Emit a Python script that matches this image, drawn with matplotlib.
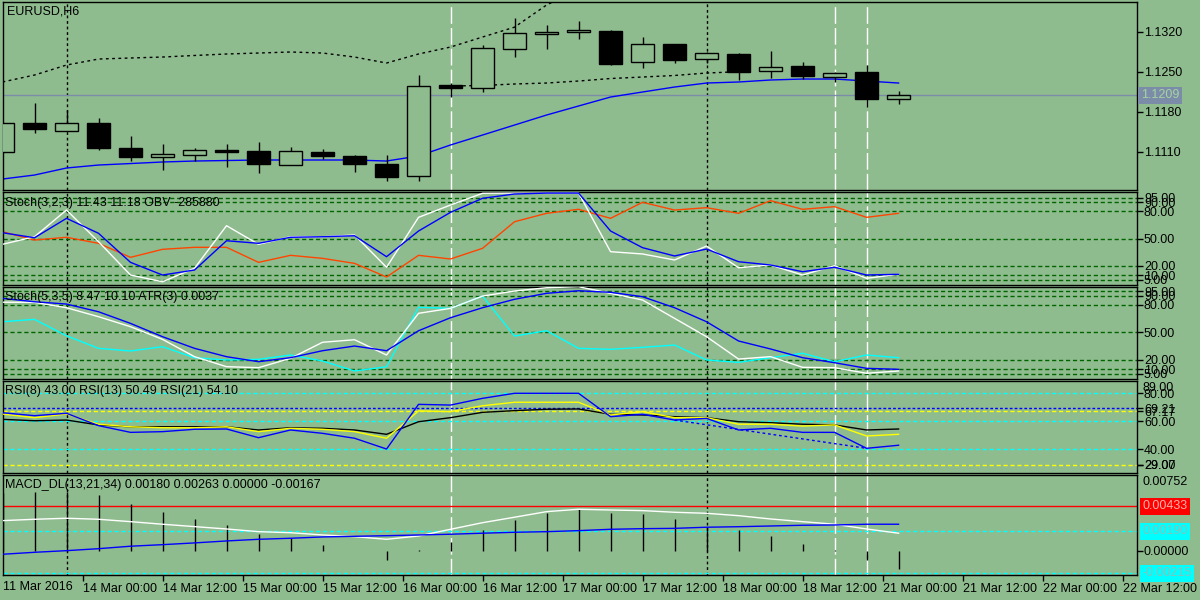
import matplotlib
matplotlib.use('Agg')
import matplotlib.pyplot as plt
import matplotlib.transforms as mtrans

BG = '#8fbc8f'
W, H = 1200, 600

# ---- price data (EURUSD H6), bar index 0..28
opens = [1.1110, 1.1160, 1.1147, 1.1160, 1.1117, 1.1101, 1.1104, 1.1113, 1.1111, 1.1087,
         1.1109, 1.1103, 1.1089, 1.1067, 1.1226, 1.1221, 1.1289, 1.1316, 1.1320, 1.1321,
         1.1267, 1.1299, 1.1272, 1.1281, 1.1251, 1.1260, 1.1241, 1.1250, 1.1202]
highs = [1.1162, 1.1195, 1.1183, 1.1169, 1.1138, 1.1124, 1.1117, 1.1124, 1.1127, 1.1118,
         1.1115, 1.1104, 1.1104, 1.1244, 1.1230, 1.1297, 1.1344, 1.1332, 1.1339, 1.1323,
         1.1310, 1.1299, 1.1285, 1.1282, 1.1286, 1.1267, 1.1250, 1.1261, 1.1216]
lows = [1.1108, 1.1143, 1.1147, 1.1113, 1.1094, 1.1078, 1.1093, 1.1084, 1.1073, 1.1087,
        1.1097, 1.1075, 1.1059, 1.1059, 1.1206, 1.1215, 1.1276, 1.1290, 1.1307, 1.1262,
        1.1257, 1.1265, 1.1265, 1.1236, 1.1239, 1.1237, 1.1232, 1.1189, 1.1194]
closes = [1.1160, 1.1149, 1.1160, 1.1117, 1.1101, 1.1106, 1.1113, 1.1110, 1.1089, 1.1111,
          1.1103, 1.1089, 1.1066, 1.1225, 1.1222, 1.1291, 1.1317, 1.1319, 1.1323, 1.1264,
          1.1299, 1.1271, 1.1282, 1.1250, 1.1258, 1.1243, 1.1248, 1.1202, 1.1209]
ma_line = [1.10622, 1.10692, 1.10815, 1.10867, 1.10893, 1.10920, 1.10937, 1.10946, 1.10955, 1.10955,
           1.10955, 1.10955, 1.10937, 1.11025, 1.11218, 1.11392, 1.11567, 1.11742, 1.11900, 1.12057,
           1.12145, 1.12232, 1.12302, 1.12320, 1.12355, 1.12372, 1.12372, 1.12337, 1.12302]
upper_band = [1.12320, 1.12442, 1.12617, 1.12722, 1.12740, 1.12757, 1.12784, 1.12810, 1.12827, 1.12845,
              1.12827, 1.12757, 1.12652, 1.12810, 1.12932, 1.13107, 1.13280, 1.13667, 1.13947]
mid_band_x = [14, 15, 16, 17, 18, 19, 20, 21, 22, 23]
mid_band = [1.12250, 1.12259, 1.12285, 1.12302, 1.12337, 1.12381, 1.12407, 1.12434, 1.12477, 1.12500]
last_price = 1.1209

# ---- Stoch(3,2,3) + OBV
st1_main = [43.8, 52.1, 81.4, 46.7, 10.1, 2.7, 17.5, 64.2, 43.8, 52.1, 52.1, 54.0, 18.6, 73.4, 86.9,
            99.8, 100, 100, 100, 35.7, 33.2, 26.6, 41.9, 18.1, 21.1, 10.1, 20.3, 6.5, 10.9]
st1_sig = [56.5, 51.0, 72.3, 55.9, 24.0, 10.1, 15.6, 47.7, 44.9, 51.5, 52.1, 53.2, 30.2, 58.4, 78.9,
           94.3, 99.0, 100, 100, 58.4, 40.1, 31.0, 38.6, 24.7, 21.1, 13.7, 18.6, 10.1, 10.9]
obv = [57.6, 48.5, 51.5, 44.9, 29.5, 38.3, 40.5, 40.5, 24.0, 31.7, 28.4, 22.9, 7.9, 31.7, 27.7,
       39.4, 68.6, 77.8, 82.2, 72.3, 89.9, 81.4, 84.0, 77.8, 91.7, 82.2, 85.1, 73.4, 77.8]

# ---- Stoch(5,3,5) + ATR
st2_main = [83.0, 82.9, 77.0, 67.2, 56.3, 42.5, 23.6, 12.7, 11.6, 21.8, 39.3, 42.1, 25.4, 70.9, 76.3,
            89.7, 95.2, 98.8, 99.9, 92.7, 85.4, 65.4, 45.4, 21.0, 23.6, 12.0, 11.6, 5.5, 8.0]
st2_sig = [87.2, 83.5, 81.0, 72.6, 59.9, 45.4, 32.7, 23.6, 18.1, 22.5, 30.1, 35.2, 30.1, 51.9, 66.1,
           77.0, 86.2, 92.7, 95.5, 93.8, 89.0, 77.0, 61.7, 40.7, 32.0, 22.5, 17.0, 10.9, 9.8]
atr = [61.7, 64.3, 46.4, 32.7, 29.8, 34.5, 22.5, 20.0, 20.7, 25.4, 18.9, 8.0, 12.6, 77.4, 76.3,
       89.7, 46.1, 51.9, 32.7, 31.6, 33.8, 36.3, 20.0, 17.4, 22.5, 27.3, 18.1, 25.4, 22.5]

# ---- RSI
rsi8 = [66.1, 64.0, 65.7, 56.9, 52.1, 52.6, 54.3, 54.5, 48.3, 53.8, 51.4, 47.9, 40.2, 72.1, 71.6,
        76.4, 80.0, 80.0, 80.0, 63.3, 65.0, 60.9, 62.1, 53.8, 55.0, 52.1, 52.1, 40.7, 42.9]
rsi13 = [65.2, 62.6, 65.2, 57.9, 56.1, 55.4, 55.4, 56.1, 52.6, 55.0, 54.3, 52.6, 47.9, 67.4, 66.9,
         71.1, 73.6, 73.6, 73.6, 64.5, 66.9, 62.6, 62.6, 57.9, 57.9, 56.6, 57.4, 49.5, 50.7]
rsi21 = [61.4, 60.4, 60.9, 57.4, 56.1, 56.1, 56.1, 56.1, 53.8, 55.4, 55.0, 53.8, 50.7, 59.7, 62.6,
         66.4, 67.6, 68.6, 68.8, 65.0, 64.5, 63.3, 62.6, 59.7, 59.0, 57.9, 57.4, 53.8, 54.5]
rsi_trend_x = [21, 27]
rsi_trend = [60.9, 40.7]

# ---- MACD_DL (values x 0.001)
macd_hist = [5.6, 5.69, 5.69, 5.43, 4.55, 3.78, 3.10, 2.52, 1.68, 1.23, 0.58, 0.0, -0.87, 0.1, 0.90,
             2.03, 3.00, 3.71, 4.07, 3.71, 3.55, 3.10, 2.36, 2.03, 1.45, 0.68, 0.10, -0.90, -1.74]
macd_blue = [-0.32, -0.13, 0.03, 0.22, 0.46, 0.61, 0.78, 0.97, 1.13, 1.23, 1.36, 1.42, 1.48, 1.55, 1.62,
             1.72, 1.81, 1.87, 1.97, 2.10, 2.16, 2.19, 2.30, 2.35, 2.42, 2.49, 2.52, 2.59, 2.59]
macd_white = [2.94, 3.07, 3.17, 3.07, 2.84, 2.59, 2.36, 2.13, 1.87, 1.77, 1.55, 1.39, 1.13, 1.45, 2.10,
              2.74, 3.27, 3.81, 4.04, 3.97, 3.91, 3.75, 3.65, 3.42, 3.10, 2.84, 2.59, 2.13, 1.72]

time_labels = ['14 Mar 00:00', '14 Mar 12:00', '15 Mar 00:00', '15 Mar 12:00', '16 Mar 00:00',
               '16 Mar 12:00', '17 Mar 00:00', '17 Mar 12:00', '18 Mar 00:00', '18 Mar 12:00',
               '21 Mar 00:00', '21 Mar 12:00', '22 Mar 00:00', '22 Mar 12:00']

plt.rcParams['font.family'] = ['Liberation Sans', 'DejaVu Sans']
plt.rcParams['font.size'] = 9

fig = plt.figure(figsize=(12, 6), dpi=100, facecolor=BG)


def panel(top, bottom, ylim):
    ax = fig.add_axes([2.5 / W, 1 - bottom / H, (1137 - 2.5) / W, (bottom - top) / H])
    ax.set_facecolor(BG)
    ax.set_xlim(0, 35.45)
    ax.set_ylim(*ylim)
    for s in ax.spines.values():
        s.set_color('black')
        s.set_linewidth(1)
    ax.yaxis.tick_right()
    ax.tick_params(axis='y', length=4, width=1, pad=1, colors='black', labelsize=9)
    ax.tick_params(axis='x', bottom=False, labelbottom=False)
    # vertical marker lines
    for k in [2, 22]:
        ax.axvline(k, color='black', lw=1, dashes=(2, 2), zorder=1)
    for k in [14, 26, 27]:
        ax.axvline(k, color='white', lw=1, dashes=(12, 3), zorder=1)
    return ax


def title(x, y, s):
    fig.text(x / W, 1 - y / H, s, va='center', ha='left', color='black', fontsize=9)


xs = list(range(len(closes)))

# ---------------- main price panel
ax = panel(2, 190, (1.10430, 1.13720))
ax.axhline(last_price, color='#7a8ca8', lw=1, zorder=1)
ax.plot(xs, ma_line, color='#0000ff', lw=1, zorder=2)
ax.plot(range(len(upper_band)), upper_band, color='black', lw=1, dashes=(2, 2.5), zorder=2)
ax.plot(mid_band_x, mid_band, color='black', lw=1, dashes=(2, 2.5), zorder=2)
for k in xs:
    o, h, l, c = opens[k], highs[k], lows[k], closes[k]
    ax.vlines(k, l, h, color='black', lw=1, zorder=3)
    fc = BG if c >= o else 'black'
    ax.bar(k, max(abs(c - o), 0.00002), bottom=min(o, c), width=0.72, color=fc,
           edgecolor='black', linewidth=1, zorder=4)
ax.set_yticks([1.1110, 1.1180, 1.1250, 1.1320])
ax.set_yticklabels(['1.1110', '1.1180', '1.1250', '1.1320'])
tr = mtrans.blended_transform_factory(ax.transAxes, ax.transData)
ax.text(1.0035, last_price, '1.1209', transform=tr, va='center', ha='left', color='#a6d3a0',
        bbox=dict(facecolor='#7a8ca8', edgecolor='none', pad=1.8))
title(7, 12, 'EURUSD,H6')

# ---------------- Stoch(3,2,3) panel
stoch_levels = [95, 90, 80, 50, 20, 10, 5]
ax2 = panel(192, 284.5, (-0.3, 101.2))
for v in stoch_levels:
    ax2.axhline(v, color='#006400', lw=1, dashes=(3, 2), zorder=1)
ax2.plot(xs, obv, color='#ff4500', lw=1, zorder=2)
ax2.plot(xs, st1_main, color='white', lw=1, zorder=3)
ax2.plot(xs, st1_sig, color='#0000ff', lw=1, zorder=4)
ax2.set_yticks(stoch_levels)
ax2.set_yticklabels(['%.2f' % v for v in stoch_levels])
title(5, 203, 'Stoch(3,2,3) 11.43 11.18 OBV -285880')

# ---------------- Stoch(5,3,5) panel
ax3 = panel(287, 378.5, (-0.2, 99.6))
for v in stoch_levels:
    ax3.axhline(v, color='#006400', lw=1, dashes=(3, 2), zorder=1)
ax3.plot(xs, atr, color='#00ffff', lw=1, zorder=2)
ax3.plot(xs, st2_main, color='white', lw=1, zorder=3)
ax3.plot(xs, st2_sig, color='#0000ff', lw=1, zorder=4)
ax3.set_yticks(stoch_levels)
ax3.set_yticklabels(['%.2f' % v for v in stoch_levels])
title(5, 297, 'Stoch(5,3,5) 8.47 10.10 ATR(3) 0.0037')

# ---------------- RSI panel
ax4 = panel(380.5, 472.5, (23.43, 89.14))
for v in [80, 60, 40]:
    ax4.axhline(v, color='#00ffff', lw=1, dashes=(3, 2), zorder=1)
ax4.axhline(69.21, color='#0000ff', lw=1, dashes=(2, 1.5), zorder=1)
ax4.axhline(67.17, color='#ffff00', lw=1, dashes=(3, 2), zorder=1)
ax4.axhline(29.0, color='#ffff00', lw=1, dashes=(3, 2), zorder=1)
ax4.plot(xs, rsi21, color='black', lw=1, zorder=2)
ax4.plot(xs, rsi13, color='#ffff00', lw=1, zorder=3)
ax4.plot(xs, rsi8, color='#0000ff', lw=1, zorder=4)
ax4.plot(rsi_trend_x, rsi_trend, color='#0000ff', lw=1, dashes=(2, 2), zorder=4)
rsi_ticks = [80, 69.21, 67.17, 60, 40, 29.0, 29.07]
ax4.set_yticks(rsi_ticks)
ax4.set_yticklabels(['80.00', '69.21', '67.17', '60.00', '40.00', '29.00', '29.07'])
ax4.text(1.0045, 0.985, '89.00', transform=ax4.transAxes, va='top', ha='left', color='black')
title(5, 391, 'RSI(8) 43.00 RSI(13) 50.49 RSI(21) 54.10')

# ---------------- MACD panel
ax5 = panel(474.5, 575, (-2.33, 7.41))
ax5.axhline(4.33, color='#ff0000', lw=1, zorder=1)
for v in [1.90, -2.15]:
    ax5.axhline(v, color='#00ffff', lw=1, dashes=(3, 2), zorder=1)
ax5.vlines(xs, 0, macd_hist, color='black', lw=1, zorder=2)
ax5.plot(xs, macd_white, color='white', lw=1, zorder=3)
ax5.plot(xs, macd_blue, color='#0000ff', lw=1, zorder=4)
ax5.set_yticks([0])
ax5.set_yticklabels(['0.00000'])
ax5.text(1.0045, 0.985, '0.00752', transform=ax5.transAxes, va='top', ha='left', color='black')
tr5 = mtrans.blended_transform_factory(ax5.transAxes, ax5.transData)
ax5.text(1.0045, 4.33, '0.00433', transform=tr5, va='center', ha='left', color='#ffb0a8',
         bbox=dict(facecolor='#ff0000', edgecolor='none', pad=1.8))
ax5.text(1.0045, 1.90, '0.00190', transform=tr5, va='center', ha='left', color='#8cc0b8',
         bbox=dict(facecolor='#00ffff', edgecolor='none', pad=1.8))
ax5.text(1.0045, -2.15, '-0.00215', transform=tr5, va='center', ha='left', color='#8cc0b8',
         bbox=dict(facecolor='#00ffff', edgecolor='none', pad=1.8))
title(5, 485, 'MACD_DL(13,21,34) 0.00180 0.00263 0.00000 -0.00167')

# time axis
ax5.tick_params(axis='x', bottom=True, labelbottom=True, length=4, width=1, pad=2,
                colors='black', labelsize=9)
ax5.set_xticks([2.5 * (j + 1) for j in range(len(time_labels))])
ax5.set_xticklabels(time_labels)
for lab in ax5.get_xticklabels():
    lab.set_ha('left')
fig.text(3 / W, 1 - 587 / H, '11 Mar 2016', va='center', ha='left', color='black', fontsize=9)

fig.savefig('out.png', dpi=100, facecolor=BG)
